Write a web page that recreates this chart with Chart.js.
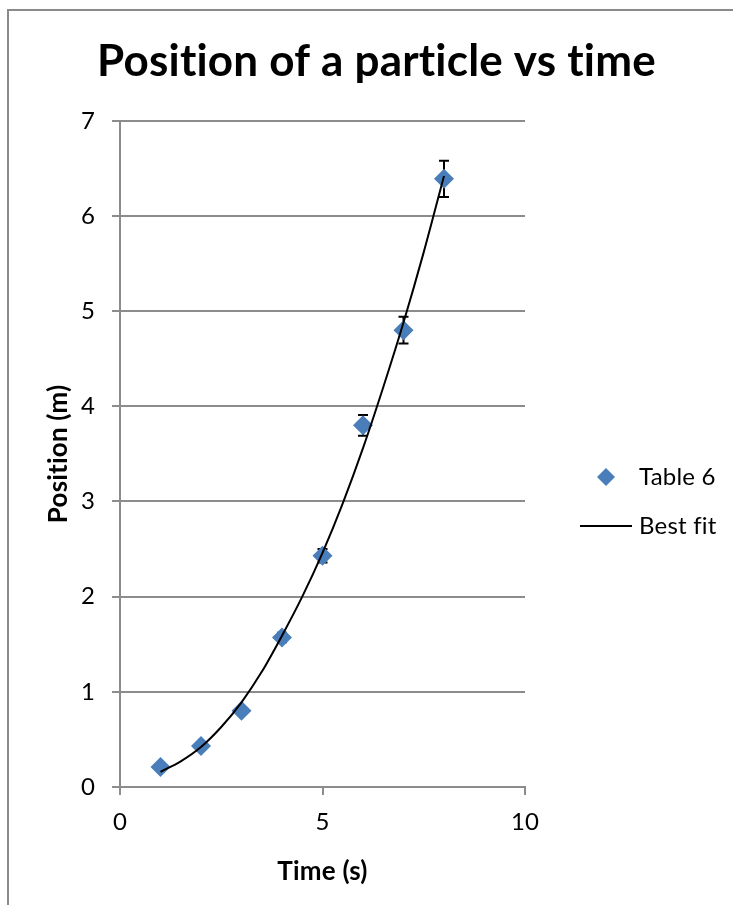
<!DOCTYPE html>
<html>
<head>
<meta charset="utf-8">
<script src="https://cdn.jsdelivr.net/npm/chart.js@4/dist/chart.umd.min.js"></script>
<style>
  html, body { margin: 0; padding: 0; background: #fff; }
  #wrap { position: relative; width: 733px; height: 905px; overflow: hidden; }
  #frame { position: absolute; left: 7px; top: 9px; width: 900px; height: 1000px;
           border-left: 2px solid #8a8a8a; border-top: 2px solid #8a8a8a; box-sizing: border-box; }
  canvas { position: absolute; left: 0; top: 0; }
</style>
</head>
<body>
<div id="wrap">
  <div id="frame"></div>
  <canvas id="chart" width="733" height="905"></canvas>
</div>
<script>
// Measured positions of the particle (Table 6)
const timeS = [1, 2, 3, 4, 5, 6, 7, 8];
const positionM = [0.21, 0.43, 0.80, 1.57, 2.43, 3.80, 4.80, 6.39];
const positionErr = [0.01, 0.01, 0.02, 0.05, 0.07, 0.11, 0.14, 0.19];

// Best-fit curve, sampled every half second
const fitTime = [1, 1.5, 2, 2.5, 3, 3.5, 4, 4.5, 5, 5.5, 6, 6.5, 7, 7.5, 8];
const fitPosition = [0.16, 0.27, 0.42, 0.63, 0.89, 1.21, 1.59, 2.00, 2.46, 2.98, 3.56, 4.20, 4.88, 5.62, 6.42];

const xTicks = [0, 5, 10];
const yTicks = [0, 1, 2, 3, 4, 5, 6, 7];

const seriesNames = ['Table 6', 'Best fit'];
const titleText = 'Position of a particle vs time';
const xTitle = 'Time (s)';
const yTitle = 'Position (m)';

const markerColor = '#4a7ebb';
const axisGray = '#8c8c8c';
const FONT = 'Lato, "Open Sans", sans-serif';

// A hair of letter spacing keeps "ti" / "fi" as separate letters
const textSetup = {
  id: 'textSetup',
  beforeDraw(chart) { chart.ctx.letterSpacing = '0.2px'; }
};

// Vertical error bars with caps, drawn beneath the markers
const errorBars = {
  id: 'errorBars',
  beforeDatasetsDraw(chart) {
    const { ctx, scales: { x, y } } = chart;
    ctx.save();
    ctx.strokeStyle = '#000';
    ctx.lineWidth = 2;
    timeS.forEach((t, i) => {
      const px = x.getPixelForValue(t);
      const top = y.getPixelForValue(positionM[i] + positionErr[i]);
      const bot = y.getPixelForValue(positionM[i] - positionErr[i]);
      ctx.beginPath();
      ctx.moveTo(px, top); ctx.lineTo(px, bot);
      ctx.moveTo(px - 5, top); ctx.lineTo(px + 5, top);
      ctx.moveTo(px - 5, bot); ctx.lineTo(px + 5, bot);
      ctx.stroke();
    });
    ctx.restore();
  }
};

// Legend on the right of the plot
const sideLegend = {
  id: 'sideLegend',
  afterDraw(chart) {
    const { ctx, chartArea } = chart;
    const x0 = chartArea.right;
    const row1 = 477, row2 = 526;
    const mx = x0 + 81, r = 9;
    ctx.save();
    ctx.fillStyle = markerColor;
    ctx.beginPath();
    ctx.moveTo(mx - r, row1); ctx.lineTo(mx, row1 - r);
    ctx.lineTo(mx + r, row1); ctx.lineTo(mx, row1 + r);
    ctx.closePath(); ctx.fill();
    ctx.strokeStyle = '#000';
    ctx.lineWidth = 2;
    ctx.beginPath();
    ctx.moveTo(x0 + 55, row2); ctx.lineTo(x0 + 107, row2);
    ctx.stroke();
    ctx.fillStyle = '#000';
    ctx.font = '24px ' + FONT;
    ctx.textBaseline = 'middle';
    ctx.textAlign = 'left';
    ctx.fillText(seriesNames[0], x0 + 114, row1);
    ctx.fillText(seriesNames[1], x0 + 114, row2);
    ctx.restore();
  }
};

new Chart(document.getElementById('chart'), {
  type: 'scatter',
  data: {
    datasets: [
      {
        label: seriesNames[1],
        type: 'line',
        data: fitTime.map((t, i) => ({ x: t, y: fitPosition[i] })),
        borderColor: '#000',
        borderWidth: 2,
        pointRadius: 0,
        fill: false,
        cubicInterpolationMode: 'monotone'
      },
      {
        label: seriesNames[0],
        data: timeS.map((t, i) => ({ x: t, y: positionM[i] })),
        pointStyle: 'rectRot',
        pointRadius: 10,
        pointHoverRadius: 10,
        backgroundColor: markerColor,
        borderColor: markerColor,
        borderWidth: 0
      }
    ]
  },
  options: {
    responsive: false,
    animation: false,
    events: [],
    layout: { padding: { left: 20, right: 0, top: 0, bottom: 0 } },
    plugins: {
      legend: { display: false },
      tooltip: { enabled: false },
      title: {
        display: true,
        text: titleText,
        color: '#000',
        font: { family: FONT, size: 44, weight: 'bold', lineHeight: 1.2 },
        padding: { top: 35, bottom: 33 }
      }
    },
    scales: {
      x: {
        type: 'linear',
        min: 0, max: 10,
        afterBuildTicks(s) { s.ticks = xTicks.map(v => ({ value: v })); },
        afterFit(s) { s.height = 118; },
        grid: { drawOnChartArea: false, drawTicks: true, tickLength: 8, color: axisGray, lineWidth: 2 },
        border: { display: true, color: axisGray, width: 2 },
        ticks: { color: '#000', font: { family: FONT, size: 24 }, padding: 13, maxRotation: 0 },
        title: { display: true, text: xTitle, color: '#000',
                 font: { family: FONT, size: 26, weight: 'bold', lineHeight: 1.2 },
                 padding: { top: 0, bottom: 18 } }
      },
      y: {
        type: 'linear',
        min: 0, max: 7,
        afterBuildTicks(s) { s.ticks = yTicks.map(v => ({ value: v })); },
        afterFit(s) { s.width = 100; },
        grid: { drawOnChartArea: true, drawTicks: true, tickLength: 8, color: axisGray, lineWidth: 2 },
        border: { display: true, color: axisGray, width: 2 },
        ticks: { color: '#000', font: { family: FONT, size: 24 }, padding: 17 },
        title: { display: true, text: yTitle, color: '#000',
                 font: { family: FONT, size: 26, weight: 'bold', lineHeight: 1.2 },
                 padding: { top: 23, bottom: 0 } }
      },
      side: {
        type: 'linear',
        position: 'right',
        display: true,
        afterFit(s) { s.width = 208; },
        grid: { display: false },
        border: { display: false },
        ticks: { display: false }
      }
    }
  },
  plugins: [textSetup, errorBars, sideLegend]
});
</script>
</body>
</html>
